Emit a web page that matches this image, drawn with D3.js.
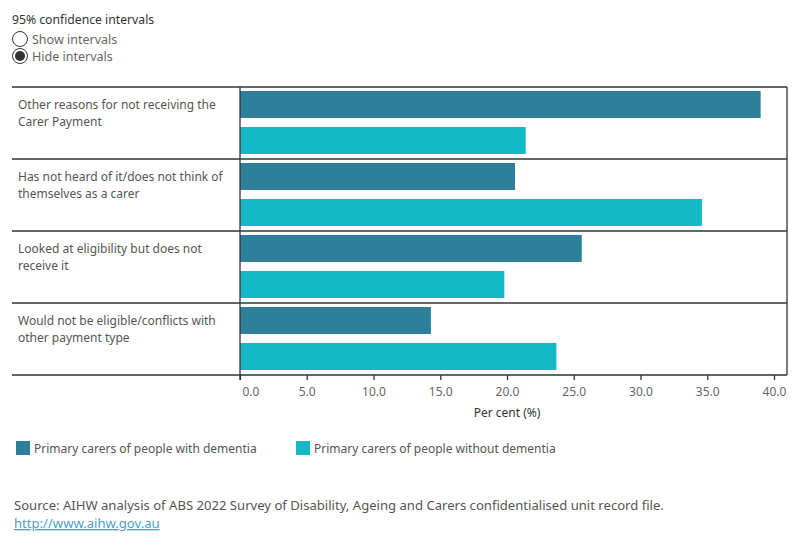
<!DOCTYPE html>
<html>
<head>
<meta charset="utf-8">
<script src="https://cdn.jsdelivr.net/npm/d3@7"></script>
<style>
  body { margin: 0; background: #fff; }
  svg text { font-family: "Noto Sans", "Open Sans", sans-serif; }
</style>
</head>
<body>
<svg id="chart" width="800" height="550"></svg>
<script>
// data
const categories = [
  ["Other reasons for not receiving the", "Carer Payment"],
  ["Has not heard of it/does not think of", "themselves as a carer"],
  ["Looked at eligibility but does not", "receive it"],
  ["Would not be eligible/conflicts with", "other payment type"]
];
const seriesNames = ["Primary carers of people with dementia", "Primary carers of people without dementia"];
const withDementia = [39.0, 20.6, 25.6, 14.3];
const withoutDementia = [21.4, 34.6, 19.8, 23.7];
const xTicks = [0, 5, 10, 15, 20, 25, 30, 35, 40];
const colors = ["#2e7f9a", "#15b8c5"];

const svg = d3.select("#chart");
const plotLeft = 240, plotRight = 787, plotTop = 87, rowH = 72;
const frameLeft = 12;

const x = d3.scaleLinear().domain([0, 40]).range([plotLeft, 774]);
const y = d3.scaleBand().domain(d3.range(categories.length)).range([plotTop, plotTop + rowH * categories.length]);

// radio header
svg.append("text").attr("x", 12).attr("y", 24).attr("font-size", 12.2).attr("fill", "#333")
  .text("95% confidence intervals");
const radios = ["Show intervals", "Hide intervals"];
radios.forEach((r, i) => {
  const cy = 39 + i * 17;
  svg.append("circle").attr("cx", 20).attr("cy", cy).attr("r", 7.5)
    .attr("fill", "#fff").attr("stroke", "#333").attr("stroke-width", 1);
  if (i == 1) svg.append("circle").attr("cx", 20).attr("cy", cy).attr("r", 5).attr("fill", "#333");
  svg.append("text").attr("x", 32).attr("y", cy + 5).attr("font-size", 12.5).attr("fill", "#666").text(r);
});

// bars
const g = svg.append("g");
const rows = [withDementia, withoutDementia];
rows.forEach((vals, s) => {
  g.selectAll(".bar" + s).data(vals).join("rect")
    .attr("x", x(0))
    .attr("y", (d, i) => y(i) + 4 + s * 36)
    .attr("width", d => x(d) - x(0))
    .attr("height", 27)
    .attr("fill", colors[s]);
});

// frame lines
const lines = svg.append("g").attr("stroke", "#333").attr("stroke-width", 1.3);
d3.range(categories.length + 1).forEach(i => {
  const yy = plotTop + i * rowH;
  lines.append("line").attr("x1", frameLeft).attr("x2", plotRight).attr("y1", yy).attr("y2", yy);
});
lines.append("line").attr("x1", plotRight).attr("x2", plotRight).attr("y1", plotTop).attr("y2", plotTop + rowH * 4);
lines.append("line").attr("x1", plotLeft).attr("x2", plotLeft).attr("y1", plotTop).attr("y2", plotTop + rowH * 4 + 5);

// category labels
categories.forEach((lab, i) => {
  const t = svg.append("text").attr("x", 18).attr("y", y(i) + 22).attr("font-size", 12).attr("fill", "#555");
  lab.forEach((l, j) => t.append("tspan").attr("x", 18).attr("dy", j ? 17 : 0).text(l));
});

// x axis
const axis = svg.append("g").attr("transform", `translate(0,${plotTop + rowH * 4})`)
  .call(d3.axisBottom(x).tickValues(xTicks).tickFormat(d3.format(".1f")).tickSize(5).tickPadding(7));
axis.select(".domain").remove();
axis.selectAll(".tick line").attr("stroke", "#333").attr("stroke-width", 1.3);
axis.selectAll(".tick text").attr("font-size", 12).attr("fill", "#666")
  .attr("font-family", "'Noto Sans', sans-serif");
// first label sits just right of the axis line
axis.selectAll(".tick text").filter(d => d == 0).attr("text-anchor", "start").attr("x", 2);

svg.append("text").attr("x", 507).attr("y", 417).attr("text-anchor", "middle")
  .attr("font-size", 12).attr("fill", "#333").text("Per cent (%)");

// legend
const legX = [16, 296];
seriesNames.forEach((n, i) => {
  svg.append("rect").attr("x", legX[i]).attr("y", 441).attr("width", 14).attr("height", 14).attr("fill", colors[i]);
  svg.append("text").attr("x", legX[i] + 18).attr("y", 453).attr("font-size", 12).attr("fill", "#555").text(n);
});

// source
svg.append("text").attr("x", 14).attr("y", 510).attr("font-size", 13.1).attr("fill", "#555")
  .text("Source: AIHW analysis of ABS 2022 Survey of Disability, Ageing and Carers confidentialised unit record file.");
svg.append("text").attr("x", 14).attr("y", 528).attr("font-size", 13.1).attr("fill", "#4a9fc9")
  .attr("text-decoration", "underline").text("http://www.aihw.gov.au");
</script>
</body>
</html>
